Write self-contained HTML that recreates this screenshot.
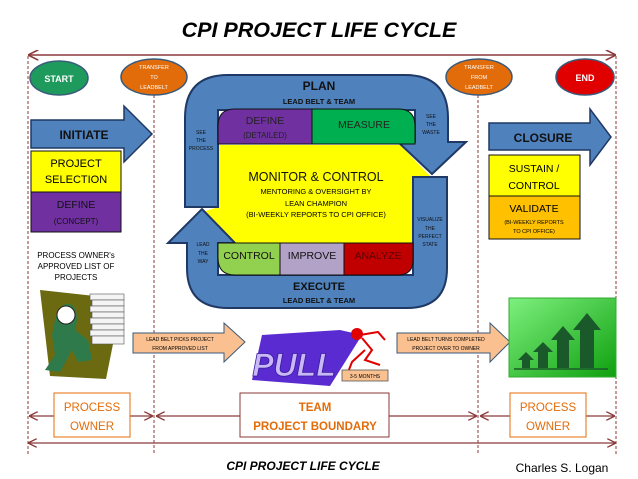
<!DOCTYPE html>
<html><head><meta charset="utf-8"><style>
body{margin:0;background:#fff}
svg{display:block}
text{font-family:"Liberation Sans",sans-serif}
</style></head><body>
<svg width="638" height="479" viewBox="0 0 638 479" xmlns="http://www.w3.org/2000/svg">
<defs>
<marker id="ah" viewBox="0 0 10 10" refX="9" refY="5" markerWidth="7" markerHeight="7" orient="auto-start-reverse"><path d="M0,0 L10,5 L0,10" fill="none" stroke="#8b3a3a" stroke-width="1.5"/></marker>
<linearGradient id="gg" x1="0" y1="0" x2="1" y2="1"><stop offset="0" stop-color="#7ef07e"/><stop offset="1" stop-color="#0fa00f"/></linearGradient>
</defs>
<text x="319" y="37" text-anchor="middle" font-size="21.5" font-weight="bold" font-style="italic">CPI PROJECT LIFE CYCLE</text>
<line x1="29" y1="55" x2="615" y2="55" stroke="#8b3a3a" stroke-width="1.5" marker-start="url(#ah)" marker-end="url(#ah)"/>
<g stroke="#8b3a3a" stroke-width="1" stroke-dasharray="3,2">
<line x1="28" y1="56" x2="28" y2="455"/><line x1="154" y1="95" x2="154" y2="455"/>
<line x1="478" y1="95" x2="478" y2="455"/><line x1="616" y1="56" x2="616" y2="455"/>
</g>
<ellipse cx="59" cy="78" rx="29" ry="17" fill="#1e9a5c" stroke="#3a5a7a" stroke-width="1.5"/>
<text x="59" y="82" text-anchor="middle" font-size="9" font-weight="bold" fill="#fff">START</text>
<ellipse cx="154" cy="77" rx="33" ry="18" fill="#e36c0a" stroke="#3a5a7a" stroke-width="1.5"/>
<text x="154" y="69" text-anchor="middle" font-size="5.5" fill="#fff">TRANSFER</text>
<text x="154" y="79" text-anchor="middle" font-size="5.5" fill="#fff">TO</text>
<text x="154" y="89" text-anchor="middle" font-size="5.5" fill="#fff">LEADBELT</text>
<ellipse cx="479" cy="77" rx="33" ry="18" fill="#e36c0a" stroke="#3a5a7a" stroke-width="1.5"/>
<text x="479" y="69" text-anchor="middle" font-size="5.5" fill="#fff">TRANSFER</text>
<text x="479" y="79" text-anchor="middle" font-size="5.5" fill="#fff">FROM</text>
<text x="479" y="89" text-anchor="middle" font-size="5.5" fill="#fff">LEADBELT</text>
<ellipse cx="585" cy="77" rx="29" ry="18" fill="#e00000" stroke="#3a5a7a" stroke-width="1.5"/>
<text x="585" y="81" text-anchor="middle" font-size="9" font-weight="bold" fill="#fff">END</text>
<path d="M31,120 L124,120 L124,106 L152,134 L124,162 L124,148 L31,148 Z" fill="#4f81bd" stroke="#1f3864" stroke-width="1.5"/>
<text x="84" y="139" text-anchor="middle" font-size="12" font-weight="bold" fill="#111">INITIATE</text>
<rect x="31" y="151" width="90" height="41" fill="#ffff00" stroke="#111"/>
<text x="76" y="167" text-anchor="middle" font-size="11">PROJECT</text>
<text x="76" y="183" text-anchor="middle" font-size="11">SELECTION</text>
<rect x="31" y="192" width="90" height="40" fill="#7030a0" stroke="#111"/>
<text x="76" y="208" text-anchor="middle" font-size="10.5" fill="#111">DEFINE</text>
<text x="76" y="224" text-anchor="middle" font-size="8" fill="#111">(CONCEPT)</text>
<text x="76" y="258" text-anchor="middle" font-size="8">PROCESS OWNER's</text>
<text x="76" y="269" text-anchor="middle" font-size="8">APPROVED LIST OF</text>
<text x="76" y="280" text-anchor="middle" font-size="8">PROJECTS</text>
<polygon points="40,290 122,299 106,379 50,376" fill="#6b6a10"/>
<path d="M55,320 Q60,300 72,305 Q80,312 75,330 L88,340 L92,360 L78,362 L72,350 L60,372 L45,370 L55,355 L52,335 Z" fill="#2f7a4a"/>
<circle cx="66" cy="315" r="9" fill="#fff" stroke="#222"/>
<g fill="#f4f4f4" stroke="#555" stroke-width="0.6">
<rect x="90" y="294" width="34" height="6"/><rect x="92" y="300" width="32" height="6"/><rect x="90" y="306" width="34" height="6"/><rect x="92" y="312" width="32" height="6"/><rect x="90" y="318" width="34" height="6"/><rect x="92" y="324" width="32" height="6"/><rect x="90" y="330" width="34" height="6"/><rect x="92" y="336" width="32" height="8"/>
</g>
<polygon points="218,145 400,145 430,176 413,178 413,243 233,243 203,212 218,207" fill="#ffff00"/>
<path d="M185,207 L185,118 Q185,75 228,75 L405,75 Q448,75 448,118 L448,142 L466,142 L432,174 L398,142 L415,142 L415,110 L218,110 L218,207 Z" fill="#4f81bd" stroke="#1f3864" stroke-width="2"/>
<path d="M413,177 L447,177 L447,268 Q447,308 407,308 L228,308 Q187,308 187,268 L187,243 L168,243 L202,209 L235,243 L218,243 L218,275 L413,275 Z" fill="#4f81bd" stroke="#1f3864" stroke-width="2"/>
<path d="M218,144 L218,126 Q218,109 235,109 L312,109 L312,144 Z" fill="#7030a0" stroke="#111"/>
<path d="M312,109 L398,109 Q415,109 415,126 L415,144 L312,144 Z" fill="#00b050" stroke="#111"/>
<path d="M218,243 L280,243 L280,275 L235,275 Q218,275 218,258 Z" fill="#92d050" stroke="#111"/>
<rect x="280" y="243" width="64" height="32" fill="#b3a2c7" stroke="#111"/>
<path d="M344,243 L413,243 L413,260 Q413,275 398,275 L344,275 Z" fill="#c00000" stroke="#111"/>
<text x="319" y="90" text-anchor="middle" font-size="12" font-weight="bold" fill="#111">PLAN</text>
<text x="319" y="104" text-anchor="middle" font-size="7.5" font-weight="bold" fill="#111">LEAD BELT &amp; TEAM</text>
<text x="265" y="124" text-anchor="middle" font-size="10.5" fill="#222">DEFINE</text>
<text x="265" y="138" text-anchor="middle" font-size="8" fill="#222">(DETAILED)</text>
<text x="364" y="128" text-anchor="middle" font-size="10.5" fill="#222">MEASURE</text>
<text x="316" y="181" text-anchor="middle" font-size="12.5" fill="#111">MONITOR &amp; CONTROL</text>
<text x="316" y="194" text-anchor="middle" font-size="7.5">MENTORING &amp; OVERSIGHT BY</text>
<text x="316" y="206" text-anchor="middle" font-size="7.5">LEAN CHAMPION</text>
<text x="316" y="217" text-anchor="middle" font-size="7.5">(BI-WEEKLY REPORTS TO CPI OFFICE)</text>
<text x="249" y="259" text-anchor="middle" font-size="10.5" fill="#111">CONTROL</text>
<text x="312" y="259" text-anchor="middle" font-size="10.5" fill="#111">IMPROVE</text>
<text x="378" y="259" text-anchor="middle" font-size="10.5" fill="#5a0000">ANALYZE</text>
<text x="319" y="290" text-anchor="middle" font-size="11" font-weight="bold" fill="#111">EXECUTE</text>
<text x="319" y="303" text-anchor="middle" font-size="7.5" font-weight="bold" fill="#111">LEAD BELT &amp; TEAM</text>
<g font-size="5" text-anchor="middle" fill="#111">
<text x="201" y="134">SEE</text><text x="201" y="142">THE</text><text x="201" y="150">PROCESS</text>
<text x="431" y="118">SEE</text><text x="431" y="126">THE</text><text x="431" y="134">WASTE</text>
<text x="430" y="221">VISUALIZE</text><text x="430" y="230">THE</text><text x="430" y="238">PERFECT</text><text x="430" y="246">STATE</text>
<text x="203" y="246">LEAD</text><text x="203" y="255">THE</text><text x="203" y="263">WAY</text>
</g>
<path d="M489,123 L590,123 L590,109 L611,137 L590,165 L590,150 L489,150 Z" fill="#4f81bd" stroke="#1f3864" stroke-width="1.5"/>
<text x="543" y="142" text-anchor="middle" font-size="12" font-weight="bold" fill="#111">CLOSURE</text>
<rect x="489" y="155" width="91" height="41" fill="#ffff00" stroke="#111"/>
<text x="534" y="172" text-anchor="middle" font-size="10.5">SUSTAIN /</text>
<text x="534" y="189" text-anchor="middle" font-size="10.5">CONTROL</text>
<rect x="489" y="196" width="91" height="43" fill="#ffc000" stroke="#111"/>
<text x="534" y="212" text-anchor="middle" font-size="10.5">VALIDATE</text>
<text x="534" y="224" text-anchor="middle" font-size="5.5">(BI-WEEKLY REPORTS</text>
<text x="534" y="233" text-anchor="middle" font-size="5.5">TO CPI OFFICE)</text>
<path d="M133,333 L224,333 L224,323 L245,342 L224,362 L224,353 L133,353 Z" fill="#fac090" stroke="#3a5a7a"/>
<text x="180" y="341" text-anchor="middle" font-size="5">LEAD BELT PICKS PROJECT</text>
<text x="180" y="350" text-anchor="middle" font-size="5">FROM APPROVED LIST</text>
<path d="M397,333 L490,333 L490,323 L510,342 L490,362 L490,353 L397,353 Z" fill="#fac090" stroke="#3a5a7a"/>
<text x="446" y="341" text-anchor="middle" font-size="5">LEAD BELT TURNS COMPLETED</text>
<text x="446" y="350" text-anchor="middle" font-size="5">PROJECT OVER TO OWNER</text>
<polygon points="262,335 340,330 362,335 330,386 252,380" fill="#5a2bd0"/>
<text x="294" y="376" text-anchor="middle" font-size="32" font-weight="bold" font-style="italic" fill="#c8b8f8" stroke="#3a1a9a" stroke-width="0.8">PULL</text>
<circle cx="357" cy="334" r="6" fill="#e00000"/>
<path d="M360,335 L378,332 L385,340 M362,338 L372,350 L365,360 L380,365 M365,350 L352,362 L345,380" stroke="#e00000" stroke-width="2" fill="none"/>
<rect x="342" y="370" width="46" height="11" fill="#fac090" stroke="#555" stroke-width="0.8"/>
<text x="365" y="378" text-anchor="middle" font-size="5">3-5 MONTHS</text>
<rect x="509" y="298" width="107" height="79" fill="url(#gg)" stroke="#3a3" />
<g fill="#1a5a2a">
<polygon points="522,368 522,360 518,360 526,352 534,360 530,360 530,368"/>
<polygon points="538,368 538,352 533,352 543,342 553,352 548,352 548,368"/>
<polygon points="557,368 557,340 551,340 563,326 575,340 569,340 569,368"/>
<polygon points="580,368 580,330 573,330 587,313 601,330 594,330 594,368"/>
</g>
<line x1="514" y1="369" x2="608" y2="369" stroke="#1a5a2a" stroke-width="1.5"/>
<g stroke="#8b3a3a" stroke-width="1.3">
<line x1="30" y1="416" x2="152" y2="416" marker-start="url(#ah)" marker-end="url(#ah)"/>
<line x1="157" y1="416" x2="476" y2="416" marker-start="url(#ah)" marker-end="url(#ah)"/>
<line x1="481" y1="416" x2="614" y2="416" marker-start="url(#ah)" marker-end="url(#ah)"/>
<line x1="29" y1="443" x2="615" y2="443" marker-start="url(#ah)" marker-end="url(#ah)"/>
</g>
<rect x="54" y="393" width="76" height="44" fill="#fff" stroke="#e36c0a"/>
<text x="92" y="411" text-anchor="middle" font-size="11.5" fill="#e36c0a">PROCESS</text>
<text x="92" y="430" text-anchor="middle" font-size="11.5" fill="#e36c0a">OWNER</text>
<rect x="240" y="393" width="149" height="44" fill="#fff" stroke="#8b3a3a"/>
<text x="315" y="411" text-anchor="middle" font-size="11.5" font-weight="bold" fill="#e36c0a">TEAM</text>
<text x="315" y="430" text-anchor="middle" font-size="11.5" font-weight="bold" fill="#e36c0a">PROJECT BOUNDARY</text>
<rect x="510" y="393" width="76" height="44" fill="#fff" stroke="#e36c0a"/>
<text x="548" y="411" text-anchor="middle" font-size="11.5" fill="#e36c0a">PROCESS</text>
<text x="548" y="430" text-anchor="middle" font-size="11.5" fill="#e36c0a">OWNER</text>
<text x="303" y="470" text-anchor="middle" font-size="12" font-weight="bold" font-style="italic">CPI PROJECT LIFE CYCLE</text>
<text x="562" y="472" text-anchor="middle" font-size="12">Charles S. Logan</text>
</svg>
</body></html>
